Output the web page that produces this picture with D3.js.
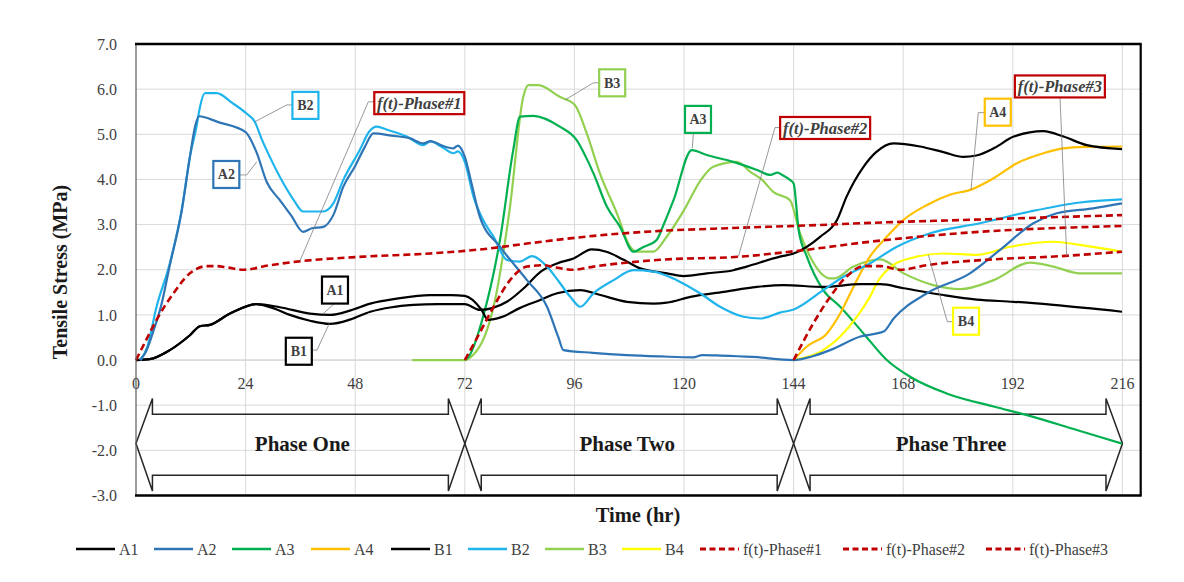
<!DOCTYPE html>
<html><head><meta charset="utf-8">
<script src="https://cdn.jsdelivr.net/npm/d3@7"></script>
<style>
html,body{margin:0;padding:0;background:#fff;}
svg{display:block;}
</style></head>
<body>
<svg id="chart" width="1184" height="582"></svg>
<script>
// ---------- DATA ----------
const xTicks = [0,24,48,72,96,120,144,168,192,216];
const yTicks = [-3,-2,-1,0,1,2,3,4,5,6,7];
const seriesNames = ["A1","A2","A3","A4","B1","B2","B3","B4","f(t)-Phase#1","f(t)-Phase#2","f(t)-Phase#3"];

const A1 = [[0,0],[3,0.02],[7.4,0.22],[11.8,0.55],[14,0.75],[16.2,0.78],[20.6,1.03],[26.4,1.24],[31.5,1.17],[38.1,1.03],[42.5,1.0],[47,1.1],[51.3,1.25],[57.1,1.36],[64.4,1.44],[69,1.44],[72,1.42],[75.6,1.12],[77.1,0.89],[80,0.95],[84,1.15],[88.5,1.33],[92.2,1.48],[97.3,1.55],[101.7,1.44],[107.5,1.29],[113.3,1.25],[116.2,1.27],[121.4,1.40],[128.7,1.51],[136,1.62],[141.8,1.66],[150.5,1.62],[158.6,1.68],[163,1.68],[168.1,1.59],[176.8,1.44],[184.1,1.34],[192.2,1.29],[200.9,1.22],[215.9,1.07]];
const A2 = [[0.8,0],[2,0.15],[4,0.7],[5.5,1.2],[7.4,2.1],[10,3.3],[11.8,4.5],[13,5.2],[13.8,5.4],[18,5.27],[24,5.05],[26.4,4.6],[28.6,3.95],[31.5,3.54],[34,3.2],[36.6,2.84],[38.5,2.92],[41,2.95],[43.2,3.21],[45.4,3.84],[48,4.3],[50,4.7],[52,5.02],[56,4.97],[60,4.91],[62.9,4.8],[64.5,4.85],[67,4.75],[69.5,4.69],[70.5,4.75],[72,4.5],[73.5,3.9],[75.3,3.17],[79.7,2.51],[85.6,1.77],[90,1.18],[92.5,0.5],[93.6,0.22],[100,0.16],[107.5,0.11],[115,0.08],[122,0.06],[124,0.11],[128,0.1],[135,0.07],[144,0],[148,0.08],[152,0.22],[158.6,0.52],[163.7,0.63],[165.9,0.92],[173.2,1.48],[182.6,1.92],[189.2,2.44],[196.5,3.03],[201.6,3.25],[209.6,3.36],[215.9,3.47]];
const A3 = [[72,0],[73,0.1],[76,0.96],[79.7,2.66],[82.6,4.65],[84.1,5.39],[87,5.41],[92.8,5.17],[96.5,4.87],[98.5,4.5],[100.2,4.13],[103.1,3.40],[106,2.95],[108.9,2.40],[111,2.5],[114,2.66],[115.5,2.99],[117.7,3.54],[121.7,4.65],[125,4.54],[130.8,4.39],[136,4.21],[138.9,4.10],[140.5,4.15],[141.5,4.1],[143.2,3.99],[144,3.91],[145.1,2.88],[146.9,2.29],[150.5,1.55],[154.2,1.18],[159.3,0.59],[164.4,0],[169.5,-0.37],[177.5,-0.74],[187.8,-1.03],[195.1,-1.22],[206,-1.55],[215.9,-1.85]];
const A4 = [[144,0],[146.9,0.30],[151.3,0.59],[154.2,1.03],[157.1,1.62],[160.7,2.29],[164.4,2.73],[168,3.10],[173.1,3.43],[178.2,3.66],[183,3.78],[187.7,4.02],[192.9,4.36],[198.7,4.58],[203.1,4.69],[208,4.72],[215.9,4.73]];
const B1 = [[0,0],[3,0.02],[7.4,0.22],[11.8,0.55],[14,0.75],[16.2,0.78],[20.6,1.03],[26.4,1.24],[30,1.15],[33.7,1.0],[38.1,0.87],[42.5,0.80],[47,0.9],[51.3,1.07],[56,1.17],[60.7,1.22],[66,1.24],[72,1.24],[75.3,1.11],[78,1.15],[81.2,1.29],[85,1.6],[88.5,1.95],[92.2,2.14],[95.8,2.25],[99.8,2.45],[103,2.4],[106.8,2.22],[110.4,2.03],[116.3,1.92],[119.9,1.86],[125,1.92],[130.8,1.99],[133.7,2.07],[141,2.29],[144,2.36],[149.8,2.73],[153.5,3.10],[155.6,3.62],[159.3,4.28],[162,4.6],[165.9,4.80],[171.7,4.73],[177,4.6],[181.2,4.50],[184,4.53],[188,4.7],[192.2,4.95],[198.7,5.07],[203.1,4.95],[208.2,4.76],[215.9,4.67]];
const B2 = [[1,0],[2.5,0.3],[4.5,1.18],[7.4,2.14],[10,3.32],[11.8,4.5],[13.3,5.2],[14,5.6],[15.1,5.91],[17.7,5.91],[21,5.7],[24.2,5.46],[26,5.28],[27.5,4.9],[29.3,4.5],[32.3,3.91],[34.5,3.55],[36.6,3.29],[41,3.29],[43.2,3.47],[45.4,3.99],[49,4.65],[51,5.05],[52.7,5.17],[55,5.1],[59.3,4.95],[62.9,4.76],[64.4,4.84],[67,4.72],[69.5,4.58],[70.5,4.62],[72,4.39],[73.9,3.62],[76,3.1],[78.3,2.73],[81.2,2.22],[84,2.18],[86.7,2.3],[90,2.07],[92.5,1.75],[95.1,1.40],[97.3,1.18],[100.2,1.48],[104.6,1.77],[108.9,1.99],[113.3,1.96],[118.4,1.77],[123.5,1.48],[127.9,1.18],[133,0.96],[136.7,0.92],[141,1.05],[144,1.12],[150.5,1.55],[155,1.85],[160.7,2.14],[166.6,2.51],[173.9,2.81],[184.8,3.03],[195.8,3.29],[206.7,3.49],[215.9,3.56]];
const B3 = [[60.5,0],[72,0],[73.1,0.05],[78.3,1.18],[81.9,3.40],[84.8,5.83],[85.9,6.09],[88.1,6.09],[92.8,5.83],[96.1,5.65],[98.7,5.02],[101.6,4.13],[105.3,3.25],[108.2,2.51],[109.6,2.40],[113.3,2.40],[116.2,2.73],[120,3.32],[123.7,3.99],[126.4,4.28],[131.6,4.39],[134.5,4.17],[137,4.0],[139.6,3.72],[143.2,3.54],[145.4,2.81],[147.6,2.29],[152,1.81],[153,1.81],[157.1,2.07],[160.7,2.2],[163,2.23],[168.1,1.92],[174.6,1.66],[180.5,1.57],[187.8,1.77],[195.8,2.16],[200.9,2.07],[206.7,1.92],[215.9,1.92]];
const B4 = [[144,0],[149.8,0.18],[154.2,0.52],[157.8,0.95],[160.7,1.4],[162.5,1.75],[165.8,2.1],[170.2,2.27],[176.8,2.36],[184.1,2.33],[191.4,2.51],[200.9,2.62],[206.7,2.55],[215.9,2.40]];
const F1 = [[0,0],[2,0.4],[4.5,0.89],[8.2,1.48],[11.8,1.92],[15.5,2.08],[17.6,2.08],[20,2.05],[23.5,2.0],[29.3,2.10],[35.2,2.18],[49.8,2.29],[64.4,2.36],[77.2,2.47],[85.6,2.58],[100.2,2.75],[114.7,2.86],[129.4,2.92],[149.4,2.99],[158.6,3.03],[180.5,3.10],[215.9,3.21]];
const F2 = [[72,0],[75,0.55],[78.3,1.18],[81.9,1.77],[85.6,2.07],[89.2,2.10],[92,2.05],[95.8,2.0],[100.2,2.07],[114.7,2.22],[132.3,2.29],[145,2.42],[160.7,2.62],[180.5,2.81],[215.9,2.97]];
const F3 = [[144,0],[148.3,0.81],[152,1.40],[155.6,1.85],[159.3,2.08],[163,2.08],[167.4,2.0],[173.1,2.10],[187.7,2.23],[202.3,2.30],[215.9,2.40]];

const phaseLabels = ["Phase One","Phase Two","Phase Three"];
const phaseStart = [0,72,144];
const phaseEnd = [72,144,216];

// ---------- LAYOUT / STYLE ----------
const svg = d3.select("#chart");
const x = d3.scaleLinear().domain([0,220]).range([136,1140.7]);
const y = d3.scaleLinear().domain([-3,7]).range([495.5,44]);
const serif = "'Liberation Serif', 'DejaVu Serif', serif";

const styles = {
  "A1":{c:"#000000",d:null},"A2":{c:"#2E75B6",d:null},"A3":{c:"#00B050",d:null},"A4":{c:"#FFC000",d:null},
  "B1":{c:"#000000",d:null},"B2":{c:"#1FB4EC",d:null},"B3":{c:"#92D050",d:null},"B4":{c:"#FFFF00",d:null},
  "f(t)-Phase#1":{c:"#C00000",d:"7,4"},"f(t)-Phase#2":{c:"#C00000",d:"7,4"},"f(t)-Phase#3":{c:"#C00000",d:"7,4"}
};
const dataMap = {"A1":A1,"A2":A2,"A3":A3,"A4":A4,"B1":B1,"B2":B2,"B3":B3,"B4":B4,
  "f(t)-Phase#1":F1,"f(t)-Phase#2":F2,"f(t)-Phase#3":F3};

// gridlines
const g = svg.append("g");
g.selectAll(".hg").data(yTicks).enter().append("line")
  .attr("x1",x(0)).attr("x2",x(220)).attr("y1",d=>y(d)).attr("y2",d=>y(d))
  .attr("stroke",d=>d===0?"#BFBFBF":"#D9D9D9").attr("stroke-width",1);
g.selectAll(".vg").data(xTicks.filter(d=>d>0)).enter().append("line")
  .attr("x1",d=>x(d)).attr("x2",d=>x(d)).attr("y1",y(7)).attr("y2",y(-3))
  .attr("stroke","#D9D9D9").attr("stroke-width",1);

// tick labels
svg.selectAll(".yl").data(yTicks).enter().append("text")
  .attr("x",117).attr("y",d=>y(d)).attr("dy","0.35em").attr("text-anchor","end")
  .attr("font-family",serif).attr("font-size",16).attr("fill","#404040")
  .text(d=>d3.format(".1f")(d).replace("\u2212","-"));
svg.selectAll(".xl").data(xTicks).enter().append("text")
  .attr("x",d=>x(d)).attr("y",y(0)+29).attr("text-anchor","middle")
  .attr("font-family",serif).attr("font-size",16).attr("fill","#404040")
  .text(d=>d);

// phase arrows (no fill)
const hT=-0.85, sT=-1.2, cM=-1.85, sB=-2.55, hB=-2.9, hl=3.6;
phaseLabels.forEach((lab,i)=>{
  const a=phaseStart[i], b=phaseEnd[i];
  const pts=[[a,cM],[a+hl,hT],[a+hl,sT],[b-hl,sT],[b-hl,hT],[b,cM],[b-hl,hB],[b-hl,sB],[a+hl,sB],[a+hl,hB]];
  svg.append("path").attr("d", d3.line().x(p=>x(p[0])).y(p=>y(p[1]))(pts)+"Z")
    .attr("fill","none").attr("stroke","#262626").attr("stroke-width",1.5).attr("stroke-linejoin","miter");
  svg.append("text").attr("x",x((a+b)/2)+ (i===0?2:(i===1?-2:-7))).attr("y",y(cM)+7)
    .attr("text-anchor","middle").attr("font-family",serif).attr("font-weight","bold")
    .attr("font-size",21).attr("fill","#1a1a1a").text(lab);
});

// series lines
const line = d3.line().x(p=>x(p[0])).y(p=>y(p[1])).curve(d3.curveMonotoneX);
const order = ["B3","A3","B4","A4","A1","B1","B2","A2","f(t)-Phase#1","f(t)-Phase#2","f(t)-Phase#3"];
order.forEach(n=>{
  svg.append("path").attr("d",line(dataMap[n])).attr("fill","none")
    .attr("stroke",styles[n].c).attr("stroke-width",styles[n].d?2.6:2.2)
    .attr("stroke-dasharray",styles[n].d).attr("stroke-linejoin","round");
});

// plot border
svg.append("line").attr("x1",x(0)).attr("x2",x(0)).attr("y1",y(7)).attr("y2",y(-3)).attr("stroke","#595959").attr("stroke-width",1.2);
svg.append("line").attr("x1",x(0)-1).attr("x2",x(220)+1).attr("y1",y(7)).attr("y2",y(7)).attr("stroke","#000").attr("stroke-width",2.6);
svg.append("line").attr("x1",x(0)-1).attr("x2",x(220)+1).attr("y1",y(-3)).attr("y2",y(-3)).attr("stroke","#000").attr("stroke-width",2.6);
svg.append("line").attr("x1",x(220)).attr("x2",x(220)).attr("y1",y(7)).attr("y2",y(-3)).attr("stroke","#000").attr("stroke-width",2.2);

// callouts: [text, box center t, box center v, border color, wide?, leader points (t,v)]
const callouts = [
  ["B2",37.1,5.64,"#1FB4EC",false,[[34.6,5.65],[33.0,5.65],[26.06,5.28]]],
  ["A2",19.78,4.11,"#2E75B6",false,[[22.7,4.10],[24.24,4.10],[26.43,4.39]]],
  ["f(t)-Phase#1",62.03,5.69,"#C00000",true,[[52.2,5.72],[50.87,5.72],[35.91,2.2]]],
  ["A1",43.57,1.55,"#000000",false,[[43.4,1.25],[41.0,1.03]]],
  ["B1",35.65,0.195,"#000000",false,[[38.4,0.22],[39.63,0.22],[42.33,0.81]]],
  ["B3",104.27,6.14,"#92D050",false,[[101.6,6.14],[100.14,6.14],[93.94,5.76]]],
  ["A3",123.06,5.33,"#00B050",false,[[122.06,5.03],[121.8,4.69]]],
  ["f(t)-Phase#2",150.9,5.14,"#C00000",true,[[141.2,5.15],[139.92,5.15],[131.9,2.29]]],
  ["A4",188.7,5.49,"#FFC000",false,[[185.8,5.48],[184.44,5.48],[182.84,3.77]]],
  ["f(t)-Phase#3",202.3,6.06,"#C00000",true,[[202.33,5.81],[203.8,2.3]]],
  ["B4",181.75,0.86,"#FFFF00",false,[[178.9,0.85],[177.65,0.85],[173.5,2.33]]]
];
const ll = d3.line().x(p=>x(p[0])).y(p=>y(p[1]));
callouts.forEach(c=>{
  svg.append("path").attr("d",ll(c[5])).attr("fill","none").attr("stroke","#7F7F7F").attr("stroke-width",0.8);
});
callouts.forEach(c=>{
  const w=c[4]?90:26, h=c[4]?22:27;
  const cx=x(c[1]), cy=y(c[2]);
  svg.append("rect").attr("x",cx-w/2).attr("y",cy-h/2).attr("width",w).attr("height",h)
    .attr("fill","#fff").attr("stroke",c[3]).attr("stroke-width",2.2);
  svg.append("text").attr("x",cx).attr("y",cy).attr("dy","0.35em").attr("text-anchor","middle")
    .attr("font-family",serif).attr("font-weight","bold").attr("font-style",c[4]?"italic":"normal")
    .attr("font-size",c[4]?16.5:14).attr("fill","#404040").text(c[0]);
});

// axis titles
svg.append("text").attr("transform","translate(67,272) rotate(-90)").attr("text-anchor","middle")
  .attr("font-family",serif).attr("font-weight","bold").attr("font-size",20).attr("fill","#1a1a1a")
  .text("Tensile Stress (MPa)");
svg.append("text").attr("x",638).attr("y",522).attr("text-anchor","middle")
  .attr("font-family",serif).attr("font-weight","bold").attr("font-size",20.5).attr("fill","#1a1a1a")
  .text("Time (hr)");

// legend
const legX = [76,154,232,311,391,468,545,622,700,843,986];
seriesNames.forEach((n,i)=>{
  const lx=legX[i], ly=549;
  svg.append("line").attr("x1",lx).attr("x2",lx+39).attr("y1",ly).attr("y2",ly)
    .attr("stroke",styles[n].c).attr("stroke-width",styles[n].d?3:2.4).attr("stroke-dasharray",styles[n].d?"6,3.5":null);
  svg.append("text").attr("x",lx+43).attr("y",ly).attr("dy","0.35em")
    .attr("font-family",serif).attr("font-size",16).attr("fill","#404040").text(n);
});
</script>
</body></html>
